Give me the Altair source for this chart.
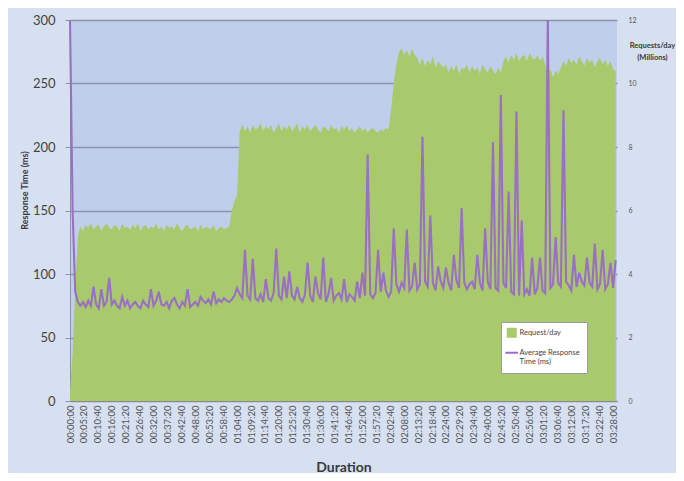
import altair as alt
import pandas as pd

# ---------------- data ----------------
TICK_LABELS = [
    "00:00:00", "00:05:20", "00:10:40", "00:16:00", "00:21:20", "00:26:40",
    "00:32:00", "00:37:20", "00:42:40", "00:48:00", "00:53:20", "00:58:40",
    "01:04:00", "01:09:20", "01:14:40", "01:20:00", "01:25:20", "01:30:40",
    "01:36:00", "01:41:20", "01:46:40", "01:52:00", "01:57:20", "02:02:40",
    "02:08:00", "02:13:20", "02:18:40", "02:24:00", "02:29:20", "02:34:40",
    "02:40:00", "02:45:20", "02:50:40", "02:56:00", "03:01:20", "03:06:40",
    "03:12:00", "03:17:20", "03:22:40", "03:28:00",
]

SAMPLE_STEP_S = 60  # one reading per minute

# Requests/day (millions)
REQ_M = [
    0.3, 1.5, 3.5, 5.2, 5.5, 5.35, 5.55, 5.45, 5.6, 5.4,
    5.5, 5.55, 5.35, 5.5, 5.6, 5.45, 5.4, 5.55, 5.5, 5.35,
    5.6, 5.45, 5.5, 5.4, 5.55, 5.45, 5.6, 5.35, 5.5, 5.55,
    5.4, 5.5, 5.45, 5.6, 5.4, 5.5, 5.35, 5.55, 5.45, 5.5,
    5.4, 5.6, 5.45, 5.35, 5.5, 5.55, 5.4, 5.45, 5.5, 5.35,
    5.55, 5.4, 5.5, 5.45, 5.4, 5.55, 5.35, 5.45, 5.5, 5.4,
    5.45, 5.5,
    6.0, 6.3, 6.5, 8.5, 8.7, 8.5, 8.65, 8.45, 8.7, 8.55,
    8.6, 8.75, 8.5, 8.65, 8.55, 8.7, 8.45, 8.6, 8.75, 8.5,
    8.65, 8.55, 8.7, 8.5, 8.6, 8.75, 8.45, 8.65, 8.55, 8.7,
    8.5, 8.6, 8.7, 8.55, 8.45, 8.65, 8.6, 8.5, 8.7, 8.55,
    8.6, 8.45, 8.65, 8.55, 8.7, 8.5, 8.6, 8.45, 8.55, 8.65,
    8.5, 8.6, 8.45, 8.55, 8.6, 8.5, 8.45, 8.55, 8.5, 8.6,
    8.55, 9.2,
    10.0, 10.6, 11.0, 11.1, 10.9, 11.05, 10.85, 11.1, 10.9, 10.8,
    10.6, 10.8, 10.55, 10.75, 10.6, 10.85, 10.5, 10.7, 10.6, 10.5,
    10.6, 10.35, 10.55, 10.4, 10.6, 10.3, 10.5, 10.45, 10.6, 10.35,
    10.55, 10.4, 10.5, 10.3, 10.6, 10.45, 10.35, 10.55, 10.4, 10.3,
    10.5, 10.35, 10.7, 10.85, 10.65, 10.9, 10.75, 10.95, 10.7, 10.85,
    10.9, 10.7, 10.95, 10.8, 10.75, 10.9, 10.7, 10.85, 10.6, 10.3,
    10.45, 10.2, 10.4, 10.3, 10.5, 10.7, 10.55, 10.8, 10.65, 10.75,
    10.6, 10.85, 10.7, 10.55, 10.8, 10.65, 10.75, 10.5, 10.7, 10.8,
    10.6, 10.75, 10.55, 10.7, 10.45, 10.4,
]

# Average response time (ms), the steady band
RT_BASE = [
    300, 150, 86, 78, 75, 78, 74, 79, 75, 78,
    76, 73, 79, 75, 78, 73, 76, 79, 75, 73,
    78, 75, 79, 73, 76, 78, 75, 73, 79, 76,
    74, 78, 75, 79, 73, 76, 75, 78, 73, 79,
    75, 76, 73, 78, 75, 79, 74, 76, 78, 75,
    76, 79, 77, 80, 76, 79, 77, 80, 78, 81,
    79, 78,
    80, 83, 78, 84, 81, 78, 83, 80, 85, 81,
    79, 84, 78, 83, 81, 79, 85, 78, 83, 80,
    84, 81, 78, 83, 80, 85, 81, 78, 84, 80,
    83, 78, 81, 85, 80, 83, 78, 84, 81, 79,
    83, 85, 80, 81, 78, 84, 82, 79, 85, 81,
    78, 83, 80, 84, 81, 85, 82, 86, 84, 87,
    82, 86,
    88, 92, 86, 93, 89, 94, 87, 90, 93, 88,
    92, 87, 94, 90, 88, 93, 87, 91, 94, 89,
    88, 93, 87, 92, 95, 89, 87, 93, 88, 92,
    94, 88, 90, 93, 87, 92, 94, 88, 93, 89,
    87, 92, 93, 89, 88, 86, 84, 88, 83, 87,
    84, 88, 83, 87, 84, 89, 83, 87, 85, 88,
    89, 92, 87, 93, 90, 88, 94, 91, 87, 93,
    90, 88, 94, 91, 87, 93, 90, 95, 88, 92,
    93, 88, 92, 94, 89, 93,
]

# Response-time spikes: sample index and peak value (ms)
SPIKE_IDX = [9, 12, 15, 20, 31, 34, 40, 45, 50, 55,
             64, 67, 70, 75, 79, 82, 84, 87, 91, 94, 97, 100, 105, 110, 112, 114, 118, 120,
             124, 129, 132, 135, 138, 141, 144, 147, 150, 156, 159, 162, 165, 168, 171, 173,
             177, 180, 183, 186, 189, 193, 195, 198, 201, 204, 207, 209]
SPIKE_MS = [90, 88, 97, 82, 88, 86, 81, 88, 82, 86,
            89, 119, 112, 96, 120, 98, 102, 90, 109, 98, 113, 97, 96, 94, 101, 194, 119, 101,
            136, 135, 109, 208, 146, 106, 105, 115, 152, 115, 136, 204, 241, 165, 228, 142,
            113, 113, 300, 129, 229, 115, 101, 113, 124, 119, 109, 111]

REQ_NAME = "Request/day"
RT_NAME = "Average Response Time (ms)"

GREEN = "#a9c96d"
PURPLE = "#9a6fc4"

# ---------------- build tables ----------------
def to_seconds(label):
    h, m, s = (int(p) for p in label.split(":"))
    return h * 3600 + m * 60 + s

tick_values = [to_seconds(s) for s in TICK_LABELS]

rt_values = list(RT_BASE)
for i, v in zip(SPIKE_IDX, SPIKE_MS):
    rt_values[i] = v

req_df = pd.DataFrame({
    "t": [i * SAMPLE_STEP_S for i in range(len(REQ_M))],
    "value": REQ_M,
    "series": REQ_NAME,
})
rt_df = pd.DataFrame({
    "t": [i * SAMPLE_STEP_S for i in range(len(rt_values))],
    "value": rt_values,
    "series": RT_NAME,
})

FONT = "Lato"
W, H = 547, 381

x_axis = alt.Axis(
    values=tick_values,
    labelExpr="utcFormat(datum.value * 1000, '%H:%M:%S')",
    labelAngle=270,
    labelFontSize=9.5,
    labelColor="#555555",
    labelPadding=4,
    labelOverlap=False,
    ticks=False,
    domainColor="#8a8a8a",
    grid=False,
    title="Duration",
    titleFontSize=14,
    titleFontWeight="bold",
    titleColor="#3a3a3a",
    titleY=70,
    titleBaseline="alphabetic",
)
x_enc = alt.X("t:Q", scale=alt.Scale(domain=[0, 12570], nice=False, zero=False), axis=x_axis)

is_req = f"datum.value == '{REQ_NAME}'"

color_enc = alt.Color(
    "series:N",
    scale=alt.Scale(domain=[REQ_NAME, RT_NAME], range=[GREEN, PURPLE]),
    legend=alt.Legend(
        title=None,
        orient="none",
        legendX=431,
        legendY=302,
        fillColor="white",
        strokeColor="#9c9c9c",
        padding=7,
        rowPadding=10,
        labelFontSize=7.5,
        labelColor="#444444",
        labelFont=FONT,
        labelExpr=f"datum.label == '{RT_NAME}' ? ['Average Response', 'Time (ms)'] : datum.label",
        symbolOffset=0,
        symbolType=alt.ExprRef(expr=f"{is_req} ? 'square' : 'stroke'"),
        symbolFillColor=alt.ExprRef(expr=f"{is_req} ? '{GREEN}' : 'transparent'"),
        symbolStrokeColor=alt.ExprRef(expr=f"{is_req} ? '{GREEN}' : '{PURPLE}'"),
        symbolStrokeWidth=alt.ExprRef(expr=f"{is_req} ? 0 : 2"),
        symbolSize=alt.ExprRef(expr=f"{is_req} ? 100 : 160"),
        symbolOpacity=1,
    ),
)

area = alt.Chart(req_df).mark_area(opacity=1, interpolate="linear").encode(
    x=x_enc,
    y=alt.Y(
        "value:Q",
        scale=alt.Scale(domain=[0, 12], nice=False),
        axis=alt.Axis(
            orient="right",
            values=[0, 2, 4, 6, 8, 10, 12],
            ticks=False,
            domain=False,
            grid=False,
            labelFontSize=7,
            labelColor="#555555",
            labelPadding=11,
            title=["Requests/day", "(Millions)"],
            titleAngle=0,
            titleX=35,
            titleY=21,
            titleAlign="center",
            titleBaseline="top",
            titleFontSize=7.5,
            titleFontWeight="bold",
            titleColor="#3a3a3a",
            titleLineHeight=12,
        ),
    ),
    color=color_enc,
)

line = alt.Chart(rt_df).mark_line(strokeWidth=2.1, interpolate="linear").encode(
    x=x_enc,
    y=alt.Y(
        "value:Q",
        scale=alt.Scale(domain=[0, 300], nice=False),
        axis=alt.Axis(
            orient="left",
            values=[0, 50, 100, 150, 200, 250, 300],
            grid=True,
            gridColor="#8b93aa",
            gridWidth=1.3,
            tickSize=5,
            tickColor="#8b93aa",
            domainColor="#8b93aa",
            labelFontSize=13,
            labelColor="#444444",
            labelPadding=10,
            title="Response Time (ms)",
            titleFontSize=9,
            titleFontWeight="bold",
            titleColor="#3a3a3a",
            titleX=-46,
            titleY=170,
            titleAngle=270,
            titleAlign="center",
            titleBaseline="middle",
        ),
    ),
    color=color_enc,
)

chart = (
    alt.layer(area, line)
    .resolve_scale(y="independent")
    .properties(
        width=W,
        height=H,
        autosize=alt.AutoSizeParams(type="none"),
        padding={"left": 62, "top": 12, "right": 59, "bottom": 72},
        background="#d6e0f1",
    )
    .configure_view(fill="#bfcfeb", stroke=None)
    .configure_axis(labelFont=FONT, titleFont=FONT)
    .configure_legend(labelFont=FONT)
)

chart.save("out.html", embed_options={"renderer": "svg", "actions": False})
